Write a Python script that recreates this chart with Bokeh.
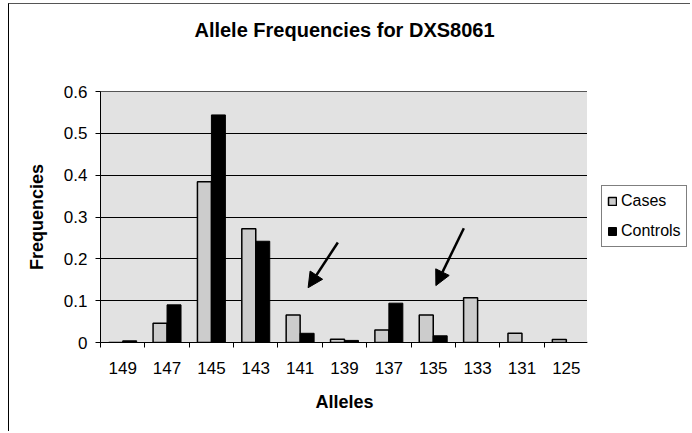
import numpy as np
from bokeh.plotting import figure
from bokeh.layouts import column, row
from bokeh.models import (ColumnDataSource, FixedTicker, Legend, LegendItem,
                          Arrow, NormalHead, Range1d, Spacer)
from bokeh.embed import file_html
from bokeh.resources import INLINE

# ---- data ----
alleles = ["149", "147", "145", "143", "141", "139", "137", "135", "133", "131", "125"]
cases = [0.0, 0.046, 0.384, 0.272, 0.066, 0.008, 0.030, 0.066, 0.107, 0.022, 0.007]
controls = [0.004, 0.090, 0.544, 0.242, 0.022, 0.005, 0.094, 0.016, 0.0, 0.0, 0.0]
series_names = ["Cases", "Controls"]
y_ticks = [0, 0.1, 0.2, 0.3, 0.4, 0.5, 0.6]
y_tick_labels = ["0", "0.1", "0.2", "0.3", "0.4", "0.5", "0.6"]
title_text = "Allele Frequencies for DXS8061"

# arrows (data coordinates: category index, frequency)
arrow_x_start = [4.85, 7.69]
arrow_y_start = [0.239, 0.273]
arrow_x_end = [4.18, 7.06]
arrow_y_end = [0.131, 0.136]

FONT = "Liberation Sans"
CASE_FILL = "#cccccc"

idx = np.arange(len(alleles))
bar_w = 0.315
src = ColumnDataSource(dict(
    xc=idx - bar_w / 2, xk=idx + bar_w / 2, cases=cases, controls=controls))

p = figure(width=579, height=428, output_backend="svg", toolbar_location=None,
           x_range=Range1d(-0.5, len(alleles) - 0.5), y_range=Range1d(0, 0.6),
           min_border_left=91, min_border_right=0, min_border_top=87,
           min_border_bottom=90)

p.background_fill_color = "#e2e2e2"
p.border_fill_color = "white"
p.outline_line_color = "#555555"

p.vbar(x="xc", top="cases", width=bar_w, source=src,
       fill_color=CASE_FILL, line_color="black", line_width=1.5)
p.vbar(x="xk", top="controls", width=bar_w, source=src,
       fill_color="black", line_color="black", line_width=1)

# title (blank lines below it lift it to the top of the chart area)
p.title.text = title_text + "\n\u00a0\n\u00a0"
p.title.align = "center"
p.title.text_font = FONT
p.title.text_font_size = "20px"
p.title.text_font_style = "bold"
p.title.text_color = "black"
p.title.standoff = 14

# x axis
p.xaxis.ticker = FixedTicker(ticks=list(idx), minor_ticks=list(idx - 0.5) + [len(alleles) - 0.5])
p.xaxis.major_label_overrides = {int(i): a for i, a in zip(idx, alleles)}
p.xaxis.major_tick_out = 0
p.xaxis.major_tick_in = 0
p.xaxis.minor_tick_out = 5
p.xaxis.minor_tick_in = 0
p.xaxis.minor_tick_line_color = "black"
p.xaxis.axis_line_color = "black"
p.xaxis.major_label_text_font = FONT
p.xaxis.major_label_text_font_size = "17px"
p.xaxis.major_label_text_color = "black"
p.xaxis.major_label_standoff = 14
p.xaxis.axis_label = "Alleles"
p.xaxis.axis_label_text_font = FONT
p.xaxis.axis_label_text_font_size = "18px"
p.xaxis.axis_label_text_font_style = "bold"
p.xaxis.axis_label_text_color = "black"
p.xaxis.axis_label_standoff = 15

# y axis
p.yaxis.ticker = FixedTicker(ticks=y_ticks)
p.yaxis.major_label_overrides = {t: l for t, l in zip(y_ticks, y_tick_labels)}
p.yaxis.major_tick_out = 5
p.yaxis.major_tick_in = 0
p.yaxis.minor_tick_line_color = None
p.yaxis.axis_line_color = "black"
p.yaxis.major_tick_line_color = "black"
p.yaxis.major_label_text_font = FONT
p.yaxis.major_label_text_font_size = "17px"
p.yaxis.major_label_text_color = "black"
p.yaxis.major_label_standoff = 8
p.yaxis.axis_label = "Frequencies"
p.yaxis.axis_label_text_font = FONT
p.yaxis.axis_label_text_font_size = "18px"
p.yaxis.axis_label_text_font_style = "bold"
p.yaxis.axis_label_text_color = "black"
p.yaxis.axis_label_standoff = 14

# grid
p.xgrid.grid_line_color = None
p.ygrid.ticker = FixedTicker(ticks=y_ticks)
p.ygrid.grid_line_color = "black"
p.ygrid.grid_line_width = 1

# arrows
for xs, ys, xe, ye in zip(arrow_x_start, arrow_y_start, arrow_x_end, arrow_y_end):
    p.add_layout(Arrow(x_start=xs, y_start=ys, x_end=xe, y_end=ye,
                       line_width=2.5, line_color="black",
                       end=NormalHead(size=15, fill_color="black", line_color="black")))

p.styles = {"border-left": "1px solid black", "border-top": "1px solid #555555"}

# legend panel (separate figure to the right of the plot area)
p2 = figure(width=103, height=428, output_backend="svg", toolbar_location=None,
            x_range=Range1d(0, 1), y_range=Range1d(0, 1),
            min_border=0)
p2.axis.visible = False
p2.grid.visible = False
p2.outline_line_color = None
p2.background_fill_color = "white"
key_src = ColumnDataSource(dict(x=[-5], top=[0]))
lr1 = p2.vbar(x="x", top="top", width=0.1, source=key_src,
              fill_color=CASE_FILL, line_color="black", line_width=1.5)
lr2 = p2.vbar(x="x", top="top", width=0.1, source=key_src,
              fill_color="black", line_color="black", line_width=1)
legend = Legend(items=[LegendItem(label=series_names[0], renderers=[lr1]),
                       LegendItem(label=series_names[1], renderers=[lr2])],
                location=(14, 95), orientation="vertical",
                label_text_font=FONT, label_text_font_size="16px",
                label_text_color="black",
                glyph_width=10, glyph_height=10, label_height=20,
                label_standoff=4, spacing=10, padding=5, margin=0,
                border_line_color="black", border_line_width=1,
                background_fill_color="white", background_fill_alpha=1)
p2.add_layout(legend, "center")
p2.styles = {"border-top": "1px solid #555555"}

layout = column(Spacer(height=3, width=10), row(Spacer(width=8, height=10), p, p2))

open("out.html", "w").write(file_html(layout, INLINE))
